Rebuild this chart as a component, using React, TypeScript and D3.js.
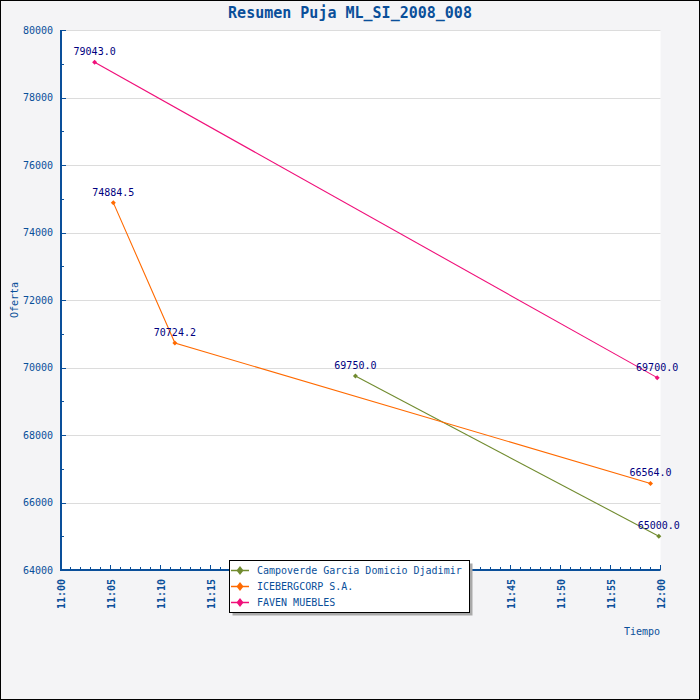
import * as d3 from 'd3';
import React from 'react';

// series data
const seriesNames = ['Campoverde Garcia Domicio Djadimir', 'ICEBERGCORP S.A.', 'FAVEN MUEBLES'];
const seriesColors = ['#718b2f', '#ff6a00', '#f0107a'];

const campoverdeTimes = ['11:29:31', '11:59:53'];
const campoverdeValues = [69750.0, 65000.0];
const icebergTimes = ['11:05:17', '11:11:27', '11:59:03'];
const icebergValues = [74884.5, 70724.2, 66564.0];
const favenTimes = ['11:03:25', '11:59:43'];
const favenValues = [79043.0, 69700.0];

const yTicks = [64000, 66000, 68000, 70000, 72000, 74000, 76000, 78000, 80000];
const xTickLabels = ['11:00', '11:05', '11:10', '11:15', '11:20', '11:25', '11:30', '11:35', '11:40', '11:45', '11:50', '11:55', '12:00'];

const title = 'Resumen Puja ML_SI_2008_008';
const yTitle = 'Oferta';
const xTitle = 'Tiempo';

const parseTime = d3.timeParse('%H:%M:%S');
const parseHM = d3.timeParse('%H:%M');

const W = 700;
const H = 700;
const margin = { left: 61, right: 40, top: 30, bottom: 130 };
const BLUE = '#0a4f9a';
const NAVY = '#000080';
const FONT = '"DejaVu Sans Mono", monospace';

type Point = { t: Date; v: number };

const series = [
  { times: campoverdeTimes, values: campoverdeValues },
  { times: icebergTimes, values: icebergValues },
  { times: favenTimes, values: favenValues },
].map((s, i) => ({
  name: seriesNames[i],
  color: seriesColors[i],
  points: s.times.map((t, j) => ({ t: parseTime(t) as Date, v: s.values[j] })),
}));

const diamond = (x: number, y: number, rx: number, ry: number) =>
  `M${x},${y - ry}L${x + rx},${y}L${x},${y + ry}L${x - rx},${y}Z`;

export default function App() {
  const x0 = margin.left;
  const x1 = W - margin.right + 0.5;
  const y0 = H - margin.bottom;
  const y1 = margin.top;

  const xScale = d3
    .scaleTime()
    .domain([parseHM('11:00') as Date, parseHM('12:00') as Date])
    .range([x0 - 0.5, x1 - 0.5]);
  const yScale = d3.scaleLinear().domain([64000, 80000]).range([y0, y1]);

  const line = d3
    .line<Point>()
    .x((d) => xScale(d.t))
    .y((d) => yScale(d.v));

  const minorY = d3.range(64000, 80001, 1000);
  const minorX = xScale.ticks(d3.timeMinute.every(1) as d3.TimeInterval);
  const majorX = xTickLabels.map((l) => parseHM(l) as Date);

  const legendX = 229.5;
  const legendY = 560.5;
  const legendW = 240;
  const legendH = 52;

  return (
    <svg width={W} height={H} style={{ position: 'absolute', left: 0, top: 0 }} fontFamily={FONT}>
      <rect x={0.5} y={0.5} width={W - 1} height={H - 1} fill="#f4f4f6" stroke="#000" />
      <rect x={x0} y={y1} width={x1 - x0} height={y0 - y1} fill="#fff" />

      {/* grid */}
      {yTicks.map((t) => (
        <line key={'g' + t} x1={x0} x2={x1} y1={Math.round(yScale(t)) + 0.5} y2={Math.round(yScale(t)) + 0.5} stroke="#dcdcdc" />
      ))}

      <text x={W / 2} y={17.5} textAnchor="middle" fontSize={15} fontWeight="bold" fill={BLUE}>
        {title}
      </text>

      {/* y axis */}
      <line x1={x0} x2={x0} y1={y1} y2={y0 + 1} stroke={BLUE} strokeWidth={2} />
      {minorY.map((t) => {
        const major = yTicks.includes(t);
        const y = Math.round(yScale(t)) + 0.5;
        return <line key={'yt' + t} x1={x0} x2={x0 + (major ? 5 : 3)} y1={y} y2={y} stroke={BLUE} />;
      })}
      {yTicks.map((t) => (
        <text key={'yl' + t} x={53} y={yScale(t)} dy="0.35em" textAnchor="end" fontSize={10} fill={BLUE}>
          {t}
        </text>
      ))}
      <text transform={`translate(14,${(y0 + y1) / 2}) rotate(-90)`} dy="0.35em" textAnchor="middle" fontSize={10} fill={BLUE}>
        {yTitle}
      </text>

      {/* x axis */}
      <line x1={x0 - 1} x2={x1} y1={y0} y2={y0} stroke={BLUE} strokeWidth={2} />
      {minorX.map((t, i) => {
        const major = i % 5 === 0;
        const x = Math.round(xScale(t)) + 0.5;
        return <line key={'xt' + i} x1={x} x2={x} y1={y0} y2={y0 - (major ? 5 : 3)} stroke={BLUE} />;
      })}
      {majorX.map((t, i) => (
        <text
          key={'xl' + i}
          transform={`translate(${xScale(t) + 1},579) rotate(-90)`}
          dy="0.35em"
          textAnchor="end"
          fontSize={10}
          fontWeight="bold"
          fill={BLUE}
        >
          {xTickLabels[i]}
        </text>
      ))}
      <text x={660} y={635} textAnchor="end" fontSize={10} fill={BLUE}>
        {xTitle}
      </text>

      {/* series */}
      {series.map((s) => (
        <g key={s.name}>
          <path d={line(s.points) || ''} fill="none" stroke={s.color} strokeWidth={1.1} />
          {s.points.map((p, j) => (
            <path key={j} d={diamond(xScale(p.t), yScale(p.v), 2.5, 2.5)} fill={s.color} />
          ))}
        </g>
      ))}
      {series.map((s) =>
        s.points.map((p, j) => (
          <text key={s.name + 'l' + j} x={xScale(p.t)} y={yScale(p.v) - 7} textAnchor="middle" fontSize={10} fill={NAVY}>
            {p.v.toFixed(1)}
          </text>
        )),
      )}

      {/* legend */}
      <rect x={legendX + 3} y={legendY + 3} width={legendW} height={legendH} fill="#a9a9a9" />
      <rect x={legendX} y={legendY} width={legendW} height={legendH} fill="#fff" stroke="#000" />
      {series.map((s, i) => {
        const cy = 570.5 + i * 16;
        return (
          <g key={'lg' + s.name}>
            <line x1={231} x2={249} y1={cy} y2={cy} stroke={s.color} strokeWidth={1.5} />
            <path d={diamond(240, cy, 3.5, 4.5)} fill={s.color} />
            <text x={257} y={cy} dy="0.35em" fontSize={10} fill={BLUE}>
              {s.name}
            </text>
          </g>
        );
      })}
    </svg>
  );
}
